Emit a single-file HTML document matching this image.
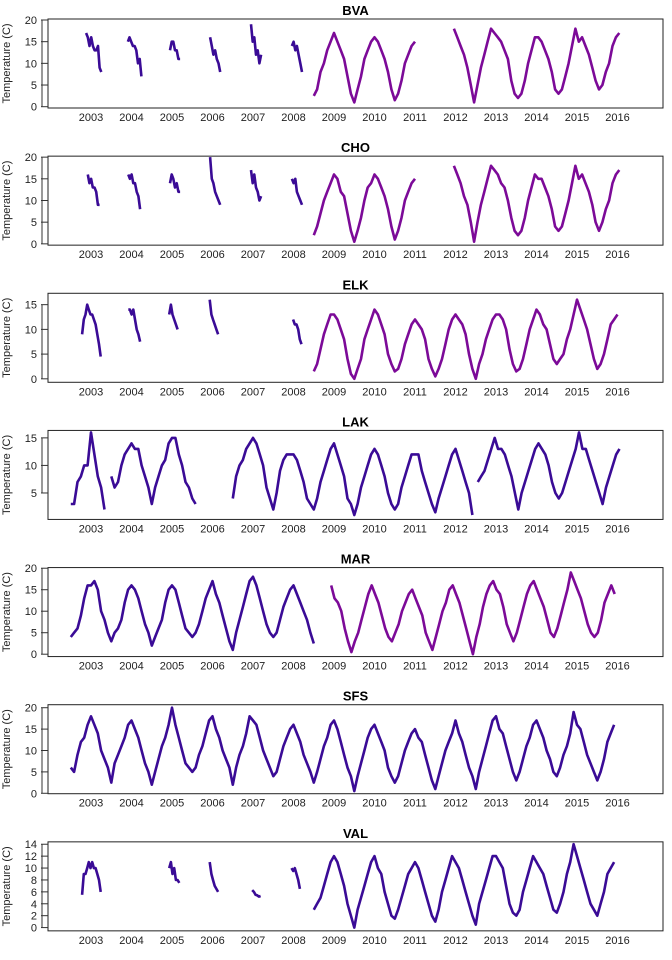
<!DOCTYPE html>
<html><head><meta charset="utf-8"><style>
html,body{margin:0;padding:0;background:#fff;}
svg{display:block;font-family:"Liberation Sans",Arial,sans-serif;}
</style></head><body>
<svg id="chart" width="672" height="960" viewBox="0 0 672 960"></svg>
<script>
// ---- data (time in decimal years, values in degrees C) ----
const years = [2003,2004,2005,2006,2007,2008,2009,2010,2011,2012,2013,2014,2015,2016];
const stationNames = ["BVA","CHO","ELK","LAK","MAR","SFS","VAL"];
const yTicksBVA = [0,5,10,15,20];
const yTicksCHO = [0,5,10,15,20];
const yTicksELK = [0,5,10,15];
const yTicksLAK = [5,10,15];
const yTicksMAR = [0,5,10,15,20];
const yTicksSFS = [0,5,10,15,20];
const yTicksVAL = [0,2,4,6,8,10,12,14];
const yDomBVA = [-0.3,20.23], yDomCHO = [-0.3,20.23], yDomELK = [-0.7,17.3], yDomLAK = [0.2,16.35];
const yDomMAR = [-0.55,20.15], yDomSFS = [-0.1,20.7], yDomVAL = [-0.55,14.4];

// segments: [startYear, stepYears, values]
const BVA_dark = [
 [2002.88,1/24,[17,16,14,16,14,13,13,14,9,8]],
 [2003.91,1/24,[15,16,15,14,14,13,10,11,7]],
 [2004.95,1/24,[13,15,15,13,13,11,11]],
 [2005.94,1/24,[16,14,12,13,11,10,8]],
 [2006.95,1/24,[19,15,16,12,13,10,12]],
 [2007.96,1/24,[14,15,13,14,12,10,8]]
];
const BVA_new = [
 [2008.5,1/12,[2.5,4,8,10,13,15,17,15,13,11,7,3,1,4,7,11,13,15,16,15,13,11,8,4,1.5,3,6,10,12,14,15]],
 [2011.96,1/12,[18,16,14,12,9,5,1,5,9,12,15,18,17,16,15,13,11,6,3,2,3,6,10,13,16,16,15,13,11,8,4,3,4,7,10,14,18,15,16,14,12,9,6,4,5,8,10,14,16,17]]
];
const CHO_dark = [
 [2002.92,1/24,[16,14,15,13,13,12,9,9]],
 [2003.92,1/24,[16,15,16,14,14,12,11,8]],
 [2004.95,1/24,[14,16,15,13,14,12,12]],
 [2005.94,1/24,[20,15,14,12,11,10,9]],
 [2006.95,1/24,[17,14,16,13,12,10,11]],
 [2007.96,1/24,[15,14,15,12,11,10,9]]
];
const CHO_new = [
 [2008.5,1/12,[2,4,7,10,12,14,16,15,12,11,7,3,0.5,3,6,10,13,14,16,15,13,11,8,4,1,3,6,10,12,14,15]],
 [2011.96,1/12,[18,16,14,11,9,5,0.5,5,9,12,15,18,17,16,14,13,10,6,3,2,3,6,10,13,16,15,15,13,11,8,4,3,4,7,10,14,18,15,16,14,12,9,5,3,5,8,10,14,16,17]]
];
const ELK_dark = [
 [2002.78,1/24,[9,12,13,15,14,13,13,12,11,9,7,4.5]],
 [2003.92,1/24,[14,14,13,14,12,10,9,7.5]],
 [2004.93,1/24,[13,15,13,12,11,10]],
 [2005.93,1/24,[16,13,12,11,10,9]],
 [2007.99,1/24,[12,11,11,10,8,7]]
];
const ELK_new = [
 [2008.5,1/12,[1.5,3,6,9,11,13,13,12,10,8,4,1,0,2,4,8,10,12,14,13,11,9,5,3,1.5,2,4,7,9,11,12,11,10,8,4,2,0.5,2,4,7,10,12,13,12,11,9,5,2,0,3,5,8,10,12,13,13,12,10,6,3,1.5,2,4,7,10,12,14,13,11,10,7,4,3,4,5,8,10,13,16,14,12,10,7,4,2,3,5,8,11,12,13]]
];
const LAK_dark = [
 [2002.5,1/12,[3,3,7,8,10,10,16,12,8,6,2]],
 [2003.5,1/12,[8,6,7,10,12,13,14,13,13,10,8,6,3,6,8,10,11,14,15,15,12,10,7,6,4,3]],
 [2006.5,1/12,[4,8,10,11,13,14,15,14,12,10,6,4,2,5,9,11,12,12,12,11,9,7,4,3,2,4,7,9,11,13,14,12,10,8,4,3,1,3,6,8,10,12,13,12,10,8,5,3,2,3,6,8,10,12,12,12,9,7,5,3,1.5,4,6,8,10,12,13,11,9,7,5,1]],
 [2012.55,1/12,[7,8,9,11,13,15,13,13,12,10,8,5,2,5,7,9,11,13,14,13,12,10,7,5,4,5,7,9,11,13,16,13,13,11,9,7,5,3,6,8,10,12,13]]
];
const MAR_dark = [
 [2002.5,1/12,[4,5,6,9,13,16,16,17,15,10,8,5,3,5,6,8,12,15,16,15,13,10,7,5,2,4,6,8,12,15,16,15,12,9,6,5,4,5,7,10,13,15,17,14,12,9,6,3,1,5,8,11,14,17,18,16,13,10,7,5,4,5,8,11,13,15,16,14,12,10,8,5,2.5]]
];
const MAR_new = [
 [2008.93,1/12,[16,13,12,10,6,3,0.5,3,5,8,11,14,16,14,12,9,6,4,3,5,7,10,12,14,15,13,11,9,5,3,1,4,7,10,12,15,16,14,12,9,6,3,0,4,7,11,14,16,17,15,14,11,7,5,3,5,8,11,14,16,17,15,13,11,8,5,4,6,9,12,15,19,17,15,13,10,7,5,4,5,8,12,14,16,14]]
];
const SFS_dark = [
 [2002.5,1/12,[6,5,9,12,13,16,18,16,14,10,8,6,2.5,7,9,11,13,16,17,15,13,10,7,5,2,5,8,11,13,16,20,16,13,10,7,6,5,6,9,11,14,17,18,15,13,10,8,6,2,6,9,11,14,18,17,16,13,10,8,6,4,5,8,11,13,15,16,14,12,9,7,5,2.5,5,8,11,13,16,17,15,12,9,6,4,0.5,4,7,10,13,15,16,14,12,10,6,4,2.5,4,7,10,12,14,15,13,12,9,6,3,1,4,7,10,12,14,17,14,12,9,6,4,1,5,8,11,14,17,18,15,14,11,8,5,3,5,8,11,13,16,17,15,13,10,8,5,4,6,9,11,14,19,16,15,12,9,7,5,3,5,8,12,14,16]]
];
const VAL_dark = [
 [2002.78,1/24,[5.5,9,9,10,11,10,11,10,10,9,8,6]],
 [2004.93,1/24,[10,11,9,10,8,8,7.5]],
 [2005.93,1/24,[11,9,8,7,6.5,6]],
 [2006.98,1/24,[6.3,6,5.5,5.4,5.2,5.3]],
 [2007.95,1/24,[10,9.5,10,9,8,6.5]],
 [2008.5,1/12,[3,4,5,7,9,11,12,11,9,7,4,2,0,3,5,7,9,11,12,10,9,6,4,2,1.5,3,5,7,9,10,11,10,8,6,4,2,1,3,6,8,10,12,11,10,8,6,4,2,0.5,4,6,8,10,12,12,11,10,7,4,2.5,2,3,6,8,10,12,11,10,9,7,5,3,2.5,4,6,9,11,14,12,10,8,6,4,3,2,4,6,9,10,11]]
];

const panels = [
 {name:"BVA", ticks:yTicksBVA, dom:yDomBVA, series:[[BVA_dark,"#3a0b96"],[BVA_new,"#7c0a98"]]},
 {name:"CHO", ticks:yTicksCHO, dom:yDomCHO, series:[[CHO_dark,"#3a0b96"],[CHO_new,"#7c0a98"]]},
 {name:"ELK", ticks:yTicksELK, dom:yDomELK, series:[[ELK_dark,"#3a0b96"],[ELK_new,"#7c0a98"]]},
 {name:"LAK", ticks:yTicksLAK, dom:yDomLAK, series:[[LAK_dark,"#3a0b96"]]},
 {name:"MAR", ticks:yTicksMAR, dom:yDomMAR, series:[[MAR_dark,"#3a0b96"],[MAR_new,"#7c0a98"]]},
 {name:"SFS", ticks:yTicksSFS, dom:yDomSFS, series:[[SFS_dark,"#3a0b96"]]},
 {name:"VAL", ticks:yTicksVAL, dom:yDomVAL, series:[[VAL_dark,"#3a0b96"]]}
];

// ---- layout ----
const NS="http://www.w3.org/2000/svg";
const svg=document.getElementById("chart");
const BOX_L=48, BOX_R=663, BOX_H=89, PITCH=960/7;
function xScale(t){return 91+(t-2003)*40.5;}
function mk(tag,attrs,parent){const e=document.createElementNS(NS,tag);for(const k in attrs)e.setAttribute(k,attrs[k]);(parent||svg).appendChild(e);return e;}

panels.forEach((p,i)=>{
  const top=19+i*PITCH, bot=top+BOX_H;
  const yS=v=>bot-(v-p.dom[0])/(p.dom[1]-p.dom[0])*BOX_H;
  const g=mk("g",{});
  
  
  const title=mk("text",{x:(BOX_L+BOX_R)/2,y:top-4,"text-anchor":"middle","font-size":"13","font-weight":"bold",fill:"#000"},g);
  title.textContent=p.name;
  
  
  p.series.forEach(([segs,color],si)=>{
    segs.forEach((seg,k)=>{
      const [t0,st,vals]=seg;
      const d=vals.map((v,j)=>(j?"L":"M")+xScale(t0+j*st).toFixed(1)+","+yS(v).toFixed(1)).join("");
      const path=mk("path",{d:d,fill:"none",stroke:color,"stroke-width":"2.6","stroke-linejoin":"round"},g);
      
      
    });
  });
  const box=mk("rect",{x:BOX_L,y:top,width:BOX_R-BOX_L,height:BOX_H,fill:"none",stroke:"#222","stroke-width":"1"},g);
  
  
  const ya=mk("g",{},g);
  
  
  const t0=p.ticks[0], t1=p.ticks[p.ticks.length-1];
  mk("line",{x1:42,x2:42,y1:yS(t0),y2:yS(t1),stroke:"#333","stroke-width":"1"},ya);
  p.ticks.forEach(v=>{
    mk("line",{x1:41,x2:48,y1:yS(v),y2:yS(v),stroke:"#333","stroke-width":"1"},ya);
    const tl=mk("text",{x:37,y:yS(v)+4,"text-anchor":"end","font-size":"11",fill:"#222"},ya);
    tl.textContent=v;
    
    
  });
  const yl=mk("text",{x:0,y:0,transform:`translate(10,${(top+bot)/2}) rotate(-90)`,"text-anchor":"middle","font-size":"11",fill:"#222"},g);
  yl.textContent="Temperature (C)";
  
  
  years.forEach(yr=>{
    const xl=mk("text",{x:xScale(yr),y:bot+13,"text-anchor":"middle","font-size":"11",fill:"#222"},g);
    xl.textContent=yr;
    
    
  });
});
</script>
</body></html>
